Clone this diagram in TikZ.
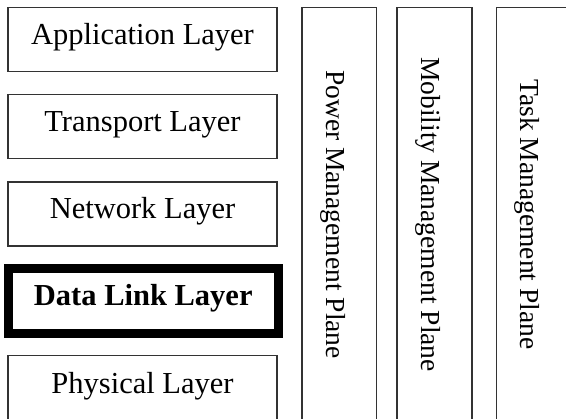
\documentclass[tikz,border=0pt]{standalone}
\usepackage{fontspec}
\setmainfont{Liberation Serif}
\usetikzlibrary{positioning}
\tikzset{
  layer/.style   = {draw=black!80, line width=1.6pt, minimum width=269pt,
                    minimum height=64pt, inner sep=0pt,
                    font=\fontsize{30.5}{36}\selectfont,
                    text height=21.3pt, text depth=12.2pt},
  dllayer/.style = {layer, draw=black, line width=9pt, minimum width=269.5pt,
                    minimum height=65pt, font=\fontsize{30.5}{36}\selectfont\bfseries},
  plane/.style   = {draw=black!80, line width=1.6pt, rotate=-90,
                    minimum width=414pt, minimum height=74.5pt, inner sep=0pt,
                    font=\fontsize{27.5}{33}\selectfont,
                    text height=33pt, text depth=6.9pt}
}

\begin{document}
\begin{tikzpicture}[x=1pt, y=-1pt]
\useasboundingbox (0,0) rectangle (566,419);
% ---- protocol layers ----
\node[layer]   (app)  at (142.5,39.5)  {Application Layer};
\node[layer]   (tra)  at (142.5,126.5) {Transport Layer};
\node[layer]   (net)  at (142.5,214)   {Network Layer};
\node[dllayer] (dll)  at (143.25,301)  {Data Link Layer};
\node[layer, minimum height=66pt] (phy) at (142.5,388.5) {Physical Layer};

% ---- management planes ----
\node[plane] (power) at (339.25,214.5) {Power Management Plane};
\node[plane] (mob)   at (434.5,214.5)  {Mobility Management Plane};
\node[plane] (task)  at (533.75,214.5) {Task Management Plane};
\end{tikzpicture}
\end{document}
